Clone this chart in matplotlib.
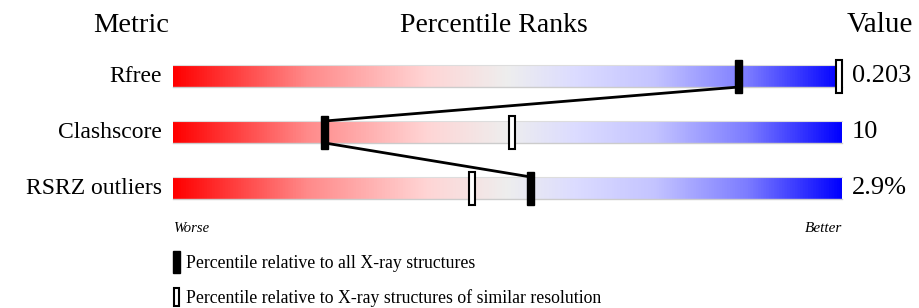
import numpy as np
import matplotlib
matplotlib.use("Agg")
import matplotlib.pyplot as plt
from matplotlib.colors import LinearSegmentedColormap
from matplotlib.patches import Rectangle

metrics = ["Rfree", "Clashscore", "RSRZ outliers"]
values = ["0.203", "10", "2.9%"]
pct_all = [84.6, 22.7, 53.5]      # percentile relative to all X-ray structures
pct_similar = [99.5, 50.7, 44.7]  # percentile relative to similar resolution

W, H = 919, 308
fig = plt.figure(figsize=(W / 100, H / 100), dpi=100)
ax = fig.add_axes([0, 0, 1, 1])
ax.set_xlim(0, W)
ax.set_ylim(H, 0)
ax.axis("off")

serif = ["Liberation Serif", "DejaVu Serif"]

cmap = LinearSegmentedColormap.from_list("pdb", [
    (0.0, "#ff0000"), (0.2, "#ff8a8a"), (0.38, "#ffd5d5"), (0.5, "#eeeeee"),
    (0.6, "#dcdcff"), (0.72, "#c4c4ff"), (0.86, "#7c7cff"), (1.0, "#0000ff")])

x0, x1 = 173, 842
bar_h = 22
centers = [76, 132, 188]
grad = np.linspace(0, 1, 512)[None, :]

def px(p):
    return x0 + (x1 - x0) * p / 100.0

for yc in centers:
    ax.imshow(grad, cmap=cmap, aspect="auto",
              extent=(x0, x1, yc + bar_h / 2, yc - bar_h / 2), zorder=1)
    ax.plot([x0, x1], [yc + bar_h / 2, yc + bar_h / 2], color="#cccccc", lw=1, zorder=2)
    ax.plot([x0, x1], [yc - bar_h / 2, yc - bar_h / 2], color="#dddddd", lw=0.8, zorder=2)

# connecting lines
for i in range(len(metrics) - 1):
    ax.plot([px(pct_all[i]), px(pct_all[i + 1])],
            [centers[i] + bar_h / 2, centers[i + 1] - bar_h / 2],
            color="black", lw=2, zorder=3)

mk_h = 33
for i, yc in enumerate(centers):
    xs = px(pct_similar[i])
    ax.add_patch(Rectangle((xs - 3, yc - mk_h / 2), 6, mk_h, facecolor="white",
                           edgecolor="black", lw=1.5, zorder=4))
    xa = px(pct_all[i])
    ax.add_patch(Rectangle((xa - 3.5, yc - mk_h / 2), 7, mk_h, facecolor="black",
                           edgecolor="black", lw=1, zorder=5))
    ax.text(162, yc, metrics[i], ha="right", va="center", fontsize=17, family=serif)
    ax.text(852, yc, values[i], ha="left", va="center", fontsize=19, family=serif)

ax.text(131, 25, "Metric", ha="center", va="center", fontsize=20.5, family=serif)
ax.text(494, 25, "Percentile Ranks", ha="center", va="center", fontsize=20, family=serif)
ax.text(880, 25, "Value", ha="center", va="center", fontsize=21, family=serif)

ax.text(x0, 228, "Worse", ha="left", va="center", fontsize=10.5, style="italic", family=serif)
ax.text(x1, 228, "Better", ha="right", va="center", fontsize=11, style="italic", family=serif)

ax.add_patch(Rectangle((173, 251), 7, 22, facecolor="black", edgecolor="black", lw=1))
ax.text(186, 264, "Percentile relative to all X-ray structures", ha="left", va="center",
        fontsize=12.8, family=serif)
ax.add_patch(Rectangle((174, 288), 5, 18, facecolor="white", edgecolor="black", lw=1.5))
ax.text(186, 298, "Percentile relative to X-ray structures of similar resolution",
        ha="left", va="center", fontsize=12.8, family=serif)

fig.savefig("out.png", dpi=100)
